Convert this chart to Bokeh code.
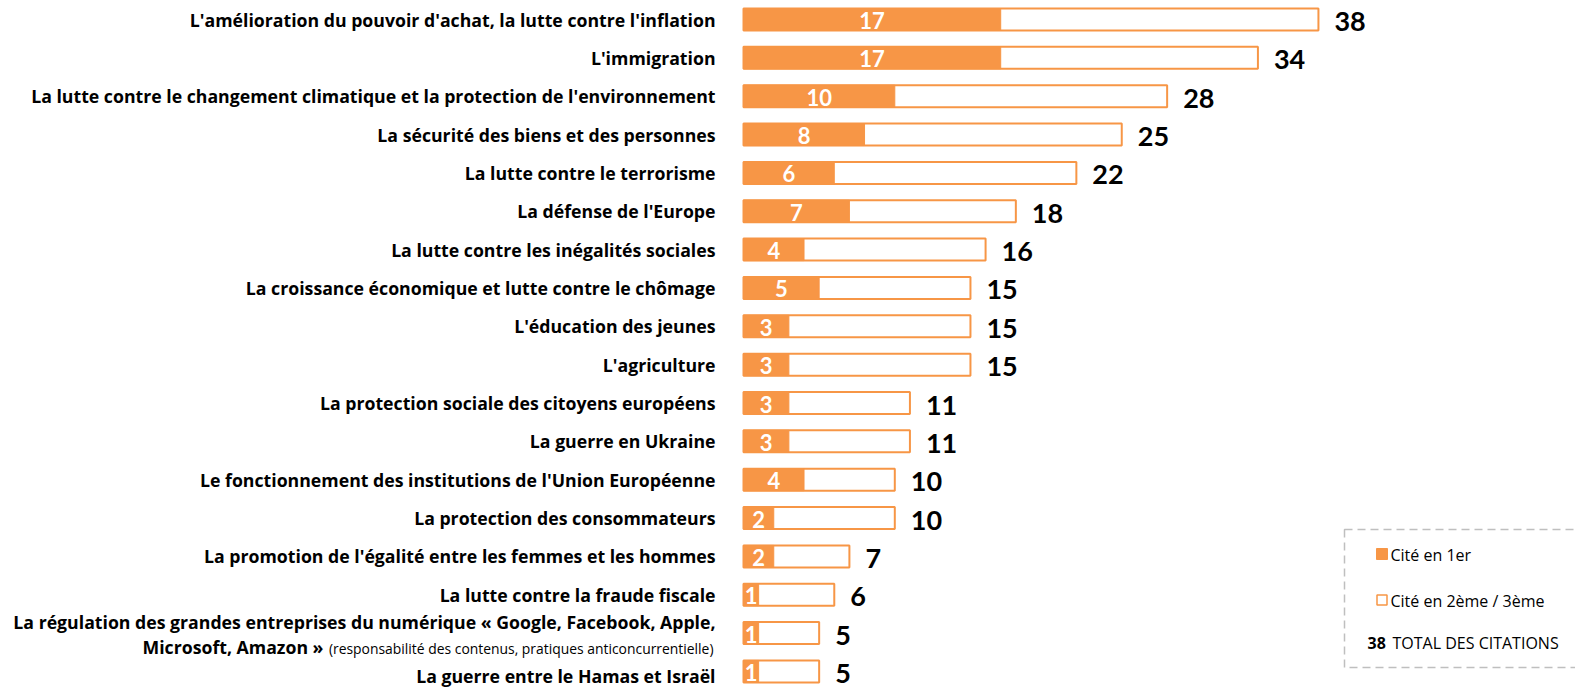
from bokeh.plotting import figure
from bokeh.models import Range1d, ColumnDataSource
from bokeh.core.properties import value
from bokeh.embed import file_html
from bokeh.resources import INLINE

# ---------------- data ----------------
categories = [
    "L'amélioration du pouvoir d'achat, la lutte contre l'inflation",
    "L'immigration",
    "La lutte contre le changement climatique et la protection de l'environnement",
    "La sécurité des biens et des personnes",
    "La lutte contre le terrorisme",
    "La défense de l'Europe",
    "La lutte contre les inégalités sociales",
    "La croissance économique et lutte contre le chômage",
    "L'éducation des jeunes",
    "L'agriculture",
    "La protection sociale des citoyens européens",
    "La guerre en Ukraine",
    "Le fonctionnement des institutions de l'Union Européenne",
    "La protection des consommateurs",
    "La promotion de l'égalité entre les femmes et les hommes",
    "La lutte contre la fraude fiscale",
    "La régulation des grandes entreprises du numérique « Google, Facebook, Apple,\nMicrosoft, Amazon »",
    "La guerre entre le Hamas et Israël",
]
notes = ["", "", "", "", "", "", "", "", "", "", "", "", "", "", "", "",
         "(responsabilité des contenus, pratiques anticoncurrentielle)", ""]
first_cited = [17, 17, 10, 8, 6, 7, 4, 5, 3, 3, 3, 3, 4, 2, 2, 1, 1, 1]
total_cited = [38, 34, 28, 25, 22, 18, 16, 15, 15, 15, 11, 11, 10, 10, 7, 6, 5, 5]
legend_labels = ["Cité en 1er", "Cité en 2ème / 3ème", "TOTAL DES CITATIONS"]

ORANGE = "#F79646"
LBL_FONT = "Open Sans"
NUM_FONT = "Lato"

W, H = 1575, 688
PX_PER_UNIT = 15.13
X0_PX = 743.0
ROW_PX = 38.35
Y0_PX = 19.0

x_start = -X0_PX / PX_PER_UNIT
x_end = (W - X0_PX) / PX_PER_UNIT
y_top = -Y0_PX / ROW_PX
y_bot = (H - Y0_PX) / ROW_PX

p = figure(width=W, height=H, output_backend="svg", toolbar_location=None,
           x_range=Range1d(x_start, x_end), y_range=Range1d(y_bot, y_top),
           min_border=0, outline_line_color=None, background_fill_color="white",
           border_fill_color="white")
p.xaxis.visible = False
p.yaxis.visible = False
p.xgrid.visible = False
p.ygrid.visible = False

n = len(categories)
rows = list(range(n))
src = ColumnDataSource(dict(
    y=rows, first=first_cited, total=total_cited,
    half=[f / 2 for f in first_cited],
    first_txt=[str(v) for v in first_cited],
    total_txt=[str(v) for v in total_cited],
))

BAR_H = 22 / ROW_PX
p.hbar(y="y", left=0, right="total", height=BAR_H, source=src,
       fill_color="white", line_color=ORANGE, line_width=2)
p.hbar(y="y", left=0, right="first", height=BAR_H, source=src,
       fill_color=ORANGE, line_color=ORANGE, line_width=1)

p.text(x="half", y="y", text="first_txt", source=src, text_color="white",
       text_font=value(NUM_FONT), text_font_style="bold", text_font_size="22px",
       text_align="center", text_baseline="middle", y_offset=1)
p.text(x="total", y="y", text="total_txt", source=src, text_color="black",
       text_font=value(NUM_FONT), text_font_style="bold", text_font_size="27px",
       text_align="left", text_baseline="middle", x_offset=16, y_offset=2)

# category labels
LBL_SIZE = "17.7px"
single_y, single_t, single_off = [], [], []
for i, c in enumerate(categories):
    if "\n" in c:
        l1, l2 = c.split("\n")
        p.text(x=[0], y=[i], text=[l1], text_font=value(LBL_FONT), text_font_style="bold",
               text_font_size=LBL_SIZE, text_align="right", text_baseline="middle",
               x_offset=-28, y_offset=-11, text_color="black")
        p.text(x=[0], y=[i], text=[notes[i]], text_font=value(LBL_FONT),
               text_font_size="13.9px", text_align="right", text_baseline="middle",
               x_offset=-30, y_offset=15, text_color="black")
        p.text(x=[0], y=[i], text=[l2], text_font=value(LBL_FONT), text_font_style="bold",
               text_font_size=LBL_SIZE, text_align="right", text_baseline="middle",
               x_offset=-420, y_offset=14, text_color="black")
    else:
        single_y.append(i)
        single_t.append(c)
        single_off.append(5 if i == n - 1 else 0)

p.text(x=0, y="y", text="t", y_offset="off",
       source=ColumnDataSource(dict(y=single_y, t=single_t, off=single_off)),
       text_font=value(LBL_FONT), text_font_style="bold", text_font_size=LBL_SIZE,
       text_align="right", text_baseline="middle", x_offset=-28, text_color="black")

# legend (decoration, placed in pixel terms)
def dx(px):
    return x_start + px / PX_PER_UNIT

def dy(py):
    return y_top + py / ROW_PX

p.quad(left=[dx(1344)], right=[dx(1600)], top=[dy(529)], bottom=[dy(667)],
       fill_color=None, line_color="#BFBFBF", line_width=1.5, line_dash="8 5")
p.scatter(x=[dx(1381.5)], y=[dy(553.5)], marker="square", size=11,
          fill_color=ORANGE, line_color=ORANGE)
p.scatter(x=[dx(1381.5)], y=[dy(599.5)], marker="square", size=10,
          fill_color="white", line_color=ORANGE, line_width=1.5)
p.text(x=[dx(1390), dx(1390), dx(1392)], y=[dy(554), dy(600), dy(642)],
       text=legend_labels, text_font=value(LBL_FONT), text_font_size="16px",
       text_align="left", text_baseline="middle", text_color="black")
p.text(x=[dx(1367)], y=[dy(642)], text=[str(total_cited[0])], text_font=value(LBL_FONT),
       text_font_style="bold", text_font_size="16px", text_align="left",
       text_baseline="middle", text_color="black")

open("out.html", "w").write(file_html(p, INLINE))
